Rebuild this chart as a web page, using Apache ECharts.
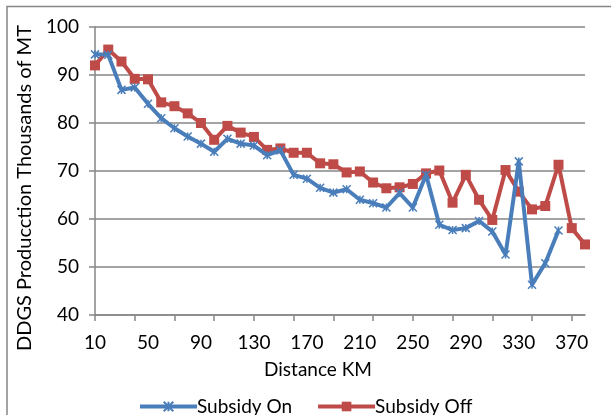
<!DOCTYPE html>
<html lang="en">
<head>
    <meta charset="UTF-8">
    <title>DDGS Production</title>
    <script src="https://cdn.jsdelivr.net/npm/echarts@6/dist/echarts.min.js"></script>
    <style>
        html, body { margin: 0; padding: 0; background: #fff; }
        #main { width: 611px; height: 415px; }
    </style>
</head>
<body>
<div id="main"></div>
<script type="text/javascript">
    // distance categories (km)
    var distances = ['10', '20', '30', '40', '50', '60', '70', '80', '90', '100',
        '110', '120', '130', '140', '150', '160', '170', '180', '190', '200',
        '210', '220', '230', '240', '250', '260', '270', '280', '290', '300',
        '310', '320', '330', '340', '350', '360', '370', '380'];

    // subsidy on (thousands of MT)
    var subsidyOn = [94.3, 94.2, 86.9, 87.4, 84.0, 81.0, 78.9, 77.2, 75.7, 74.0,
        76.7, 75.7, 75.3, 73.3, 74.3, 69.2, 68.4, 66.5, 65.5, 66.2,
        64.0, 63.3, 62.4, 65.4, 62.4, 69.2, 58.8, 57.7, 58.1, 59.6,
        57.4, 52.6, 72.0, 46.3, 50.8, 57.6];

    // subsidy off (thousands of MT)
    var subsidyOff = [92.0, 95.3, 92.8, 89.2, 89.1, 84.3, 83.5, 82.0, 80.0, 76.5,
        79.4, 78.0, 77.1, 74.4, 74.7, 73.8, 73.8, 71.6, 71.4, 69.7,
        69.9, 67.6, 66.4, 66.6, 67.3, 69.5, 70.1, 63.4, 69.2, 64.0,
        59.8, 70.2, 65.7, 62.0, 62.7, 71.3, 58.1, 54.7];

    var FONT = 'Lato';
    var GREY = '#868686';

    var chart = echarts.init(document.getElementById('main'));

    var option = {
        animation: false,
        backgroundColor: '#fff',
        textStyle: { fontFamily: FONT, color: '#000' },
        grid: { left: 95, right: 26, top: 27, bottom: 100, containLabel: false },
        graphic: [{
            type: 'rect',
            shape: { x: 7, y: 6.5, width: 700, height: 500 },
            style: { fill: 'none', stroke: GREY, lineWidth: 1.5 },
            silent: true
        }],
        legend: {
            left: 133,
            top: 392,
            itemWidth: 57,
            itemHeight: 12,
            itemGap: 24,
            lineStyle: { width: 4 },
            textStyle: { fontFamily: FONT, fontSize: 19, color: '#000', padding: [0, 0, 0, -5] },
            data: ['Subsidy On', 'Subsidy Off']
        },
        xAxis: {
            type: 'category',
            data: distances,
            boundaryGap: false,
            name: 'Distance KM',
            nameLocation: 'middle',
            nameGap: 45,
            nameTextStyle: { fontFamily: FONT, fontSize: 19, color: '#000', padding: [0, 44, 0, 0] },
            axisLine: { lineStyle: { color: GREY, width: 1.5 } },
            axisTick: { show: true, interval: 2, length: 6, lineStyle: { color: GREY, width: 1.5 } },
            axisLabel: { interval: 3, margin: 18, fontFamily: FONT, fontSize: 19, color: '#000' },
            splitLine: { show: false }
        },
        yAxis: {
            type: 'value',
            min: 40,
            max: 100,
            interval: 10,
            name: 'DDGS Producction Thousands of MT',
            nameLocation: 'middle',
            nameGap: 57,
            nameTextStyle: { fontFamily: FONT, fontSize: 20, color: '#000', padding: [0, 34, 0, 0] },
            axisLine: { show: true, lineStyle: { color: GREY, width: 1.5 } },
            axisTick: { show: true, length: 6, lineStyle: { color: GREY, width: 1.5 } },
            axisLabel: { margin: 16, fontFamily: FONT, fontSize: 19, color: '#000' },
            splitLine: { show: true, lineStyle: { color: GREY, width: 1.5 } }
        },
        series: [{
            name: 'Subsidy On',
            type: 'line',
            data: subsidyOn,
            color: '#4A7EBB',
            symbol: 'path://M0,0L10,10M10,0L0,10M5,0L5,10',
            symbolSize: 8,
            showAllSymbol: true,
            lineStyle: { width: 4, color: '#4A7EBB' },
            itemStyle: { color: '#4A7EBB', borderColor: '#4A7EBB', borderWidth: 1.5 },
            z: 3
        }, {
            name: 'Subsidy Off',
            type: 'line',
            data: subsidyOff,
            color: '#BE4B48',
            symbol: 'rect',
            symbolSize: 10,
            showAllSymbol: true,
            lineStyle: { width: 4, color: '#BE4B48' },
            itemStyle: { color: '#BE4B48' },
            z: 2
        }]
    };

    chart.setOption(option);
</script>
</body>
</html>
